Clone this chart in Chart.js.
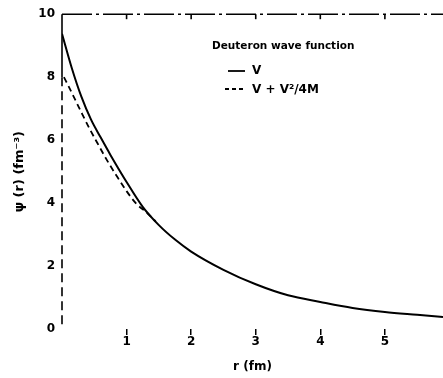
<!DOCTYPE html>
<html>
<head>
<meta charset="utf-8">
<script src="https://cdn.jsdelivr.net/npm/chart.js@4"></script>
<style>
  html, body { margin: 0; padding: 0; background: #fff; }
  #wrap { width: 443px; height: 378px; }
</style>
</head>
<body>
<div id="wrap"><canvas id="myChart" width="443" height="378"></canvas></div>
<script>
// r in fm, psi in fm^-3
var rV = [0, 0.15, 0.3, 0.45, 0.6, 0.75, 1.0, 1.25, 1.5, 1.75, 2.0, 2.5, 3.0, 3.5, 4.0, 4.5, 5.0, 5.5, 5.9];
var psiV = [9.38, 8.3, 7.38, 6.65, 6.08, 5.53, 4.67, 3.88, 3.3, 2.84, 2.46, 1.88, 1.42, 1.07, 0.86, 0.67, 0.54, 0.45, 0.38];

var rV2 = [0.03, 0.1, 0.2, 0.3, 0.43, 0.55, 0.7, 0.85, 1.0, 1.15, 1.3, 1.45];
var psiV2 = [8.0, 7.72, 7.3, 6.88, 6.35, 5.9, 5.35, 4.85, 4.38, 3.98, 3.72, 3.42];

var xTicks = [1, 2, 3, 4, 5];
var yTicks = [0, 2, 4, 6, 8, 10];

var legendTitle = 'Deuteron wave function';
var seriesNames = ['V', 'V + V²/4M'];

function pts(xs, ys) {
  var out = [];
  for (var i = 0; i < xs.length; i++) out.push({x: xs[i], y: ys[i]});
  return out;
}

var FONT = '"DejaVu Sans", "Liberation Sans", sans-serif';

// frame: dashed top border with ticks, broken left axis, legend
var framePlugin = {
  id: 'frame',
  afterDraw: function(chart) {
    var ctx = chart.ctx, a = chart.chartArea;
    var xs = chart.scales.x, ys = chart.scales.y;
    ctx.save();
    ctx.strokeStyle = '#000';
    ctx.lineWidth = 1.6;
    // top border
    ctx.setLineDash([30, 4, 3, 4]);
    ctx.beginPath();
    ctx.moveTo(a.left, a.top);
    ctx.lineTo(a.right, a.top);
    ctx.stroke();
    ctx.setLineDash([]);
    for (var i = 0; i < xTicks.length; i++) {
      var px = xs.getPixelForValue(xTicks[i]);
      ctx.beginPath();
      ctx.moveTo(px, a.top);
      ctx.lineTo(px, a.top + 5);
      ctx.stroke();
    }
    // left axis: solid at top, broken below
    var y8 = ys.getPixelForValue(8);
    ctx.beginPath();
    ctx.moveTo(a.left, a.top);
    ctx.lineTo(a.left, y8);
    ctx.stroke();
    ctx.setLineDash([9, 5]);
    ctx.beginPath();
    ctx.moveTo(a.left, y8);
    ctx.lineTo(a.left, a.bottom);
    ctx.stroke();
    ctx.setLineDash([]);

    // legend
    ctx.fillStyle = '#000';
    ctx.textBaseline = 'middle';
    ctx.textAlign = 'left';
    ctx.font = 'bold 10.5px ' + FONT;
    ctx.fillText(legendTitle, 212, 46);
    ctx.lineWidth = 1.8;
    ctx.beginPath();
    ctx.moveTo(228, 71);
    ctx.lineTo(245, 71);
    ctx.stroke();
    ctx.setLineDash([4, 3]);
    ctx.beginPath();
    ctx.moveTo(225, 89);
    ctx.lineTo(245, 89);
    ctx.stroke();
    ctx.setLineDash([]);
    ctx.font = 'bold 12px ' + FONT;
    ctx.fillText(seriesNames[0], 252, 71);
    ctx.fillText(seriesNames[1], 252, 90);
    ctx.restore();
  }
};

var myChart = new Chart(document.getElementById('myChart').getContext('2d'), {
  type: 'line',
  data: {
    datasets: [{
      label: seriesNames[0],
      data: pts(rV, psiV),
      borderColor: '#000',
      borderWidth: 2,
      pointRadius: 0,
      cubicInterpolationMode: 'monotone',
      fill: false
    }, {
      label: seriesNames[1],
      data: pts(rV2, psiV2),
      borderColor: '#000',
      borderWidth: 1.8,
      borderDash: [6, 4],
      pointRadius: 0,
      cubicInterpolationMode: 'monotone',
      fill: false
    }]
  },
  options: {
    responsive: false,
    animation: false,
    devicePixelRatio: 1,
    layout: { padding: { top: 5, right: 0, left: 0, bottom: 0 } },
    plugins: { legend: { display: false }, tooltip: { enabled: false } },
    scales: {
      x: {
        type: 'linear',
        min: 0,
        max: 5.9,
        afterFit: function(s) { s.height = 49; },
        afterBuildTicks: function(s) { s.ticks = xTicks.map(function(v) { return {value: v}; }); },
        border: { display: false },
        grid: { drawOnChartArea: false, drawTicks: true, tickLength: 6, color: '#000', lineWidth: 1.5 },
        ticks: { color: '#000', padding: 0, font: { family: FONT, size: 12, weight: 'bold' } },
        title: { display: true, text: 'r (fm)', color: '#000', padding: { top: 6 }, font: { family: FONT, size: 12, weight: 'bold' } }
      },
      y: {
        min: 0,
        max: 10,
        afterFit: function(s) { s.width = 62; },
        afterBuildTicks: function(s) { s.ticks = yTicks.map(function(v) { return {value: v}; }); },
        border: { display: false },
        grid: { display: false, drawTicks: false },
        ticks: { color: '#000', padding: 7, font: { family: FONT, size: 12, weight: 'bold' } },
        title: { display: true, text: 'ψ (r) (fm⁻³)', color: '#000', padding: { top: 12, bottom: 4 }, font: { family: FONT, size: 13, weight: 'bold' } }
      }
    }
  },
  plugins: [framePlugin]
});
</script>
</body>
</html>
